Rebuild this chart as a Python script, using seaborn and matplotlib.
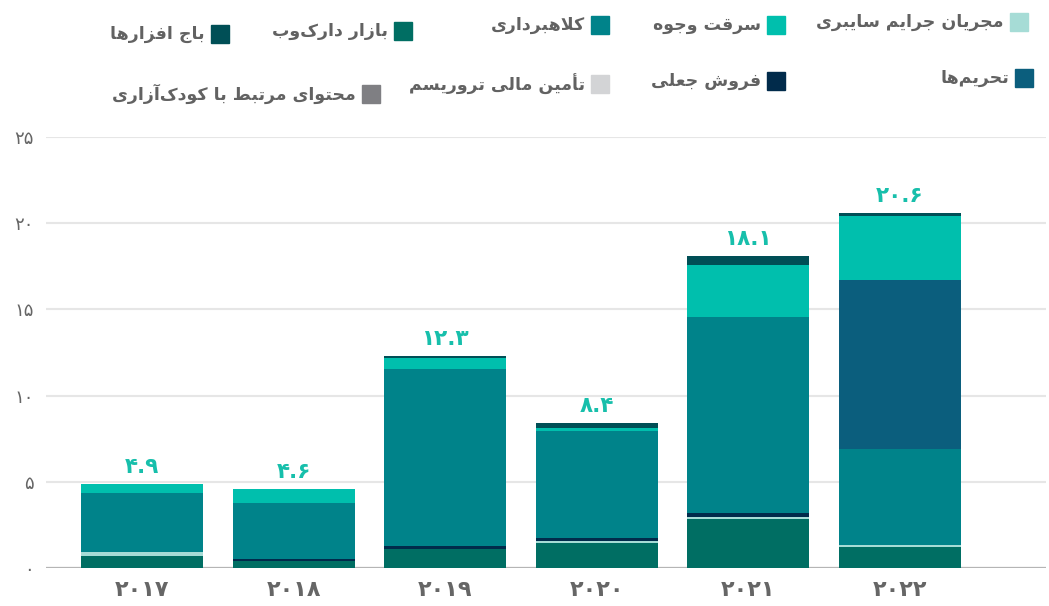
import matplotlib
matplotlib.use("Agg")
import matplotlib.pyplot as plt
import numpy as np
import seaborn as sns
from matplotlib.patches import Rectangle
from matplotlib.ticker import FuncFormatter, MultipleLocator

# ---- data (billions of dollars, by year) ----
years = ['۲۰۱۷', '۲۰۱۸', '۲۰۱۹', '۲۰۲۰', '۲۰۲۱', '۲۰۲۲']

darknet_market = [0.68, 0.43, 1.10, 1.45, 2.82, 1.20]
cybercrime_admins = [0.23, 0.00, 0.00, 0.12, 0.12, 0.12]
fraud_shops = [0.00, 0.12, 0.17, 0.17, 0.23, 0.00]
terrorism_financing = [0.00, 0.00, 0.00, 0.00, 0.00, 0.00]
scams = [3.45, 3.24, 10.27, 6.20, 11.39, 5.57]
sanctions = [0.00, 0.00, 0.00, 0.00, 0.00, 9.83]
stolen_funds = [0.54, 0.81, 0.64, 0.17, 3.02, 3.71]
ransomware = [0.00, 0.00, 0.12, 0.29, 0.52, 0.17]
child_abuse = [0.00, 0.00, 0.00, 0.00, 0.00, 0.00]

series_names = {
    'darknet': 'بازار دارک‌وب',
    'admins': 'مجریان جرایم سایبری',
    'fraud': 'فروش جعلی',
    'terror': 'تأمین مالی تروریسم',
    'scams': 'کلاهبرداری',
    'sanctions': 'تحریم‌ها',
    'stolen': 'سرقت وجوه',
    'ransom': 'باج افزارها',
    'csam': 'محتوای مرتبط با کودک‌آزاری',
}

# stacking order, bottom to top
stack = [
    ('darknet', darknet_market, '#006e63'),
    ('admins', cybercrime_admins, '#a6dcd6'),
    ('fraud', fraud_shops, '#012b4b'),
    ('terror', terrorism_financing, '#d3d4d6'),
    ('scams', scams, '#00838a'),
    ('sanctions', sanctions, '#0b5e7d'),
    ('stolen', stolen_funds, '#00bfad'),
    ('ransom', ransomware, '#004f56'),
    ('csam', child_abuse, '#7f7f83'),
]

# ---- minimal Persian shaping (matplotlib has no complex text layout) ----
FORMS = {
    'ا': (0xFE8D, 0xFE8E, None, None), 'آ': (0xFE81, 0xFE82, None, None),
    'أ': (0xFE83, 0xFE84, None, None), 'د': (0xFEA9, 0xFEAA, None, None),
    'ر': (0xFEAD, 0xFEAE, None, None), 'ز': (0xFEAF, 0xFEB0, None, None),
    'و': (0xFEED, 0xFEEE, None, None),
    'ب': (0xFE8F, 0xFE90, 0xFE91, 0xFE92), 'ت': (0xFE95, 0xFE96, 0xFE97, 0xFE98),
    'ج': (0xFE9D, 0xFE9E, 0xFE9F, 0xFEA0), 'ح': (0xFEA1, 0xFEA2, 0xFEA3, 0xFEA4),
    'س': (0xFEB1, 0xFEB2, 0xFEB3, 0xFEB4), 'ش': (0xFEB5, 0xFEB6, 0xFEB7, 0xFEB8),
    'ط': (0xFEC1, 0xFEC2, 0xFEC3, 0xFEC4), 'ع': (0xFEC9, 0xFECA, 0xFECB, 0xFECC),
    'ف': (0xFED1, 0xFED2, 0xFED3, 0xFED4), 'ق': (0xFED5, 0xFED6, 0xFED7, 0xFED8),
    'ل': (0xFEDD, 0xFEDE, 0xFEDF, 0xFEE0), 'م': (0xFEE1, 0xFEE2, 0xFEE3, 0xFEE4),
    'ن': (0xFEE5, 0xFEE6, 0xFEE7, 0xFEE8), 'ه': (0xFEE9, 0xFEEA, 0xFEEB, 0xFEEC),
    'ی': (0xFBFC, 0xFBFD, 0xFBFE, 0xFBFF), 'ک': (0xFB8E, 0xFB8F, 0xFB90, 0xFB91),
}
LAM_ALEF = {'ا': (0xFEFB, 0xFEFC), 'أ': (0xFEF7, 0xFEF8), 'آ': (0xFEF5, 0xFEF6)}


def _joins_next(ch):
    return ch in FORMS and FORMS[ch][2] is not None


def rtl(text):
    out = []
    i, n = 0, len(text)
    while i < n:
        ch = text[i]
        if ch not in FORMS:
            if ch != '\u200c':
                out.append(ch)
            i += 1
            continue
        link_prev = i > 0 and _joins_next(text[i - 1])
        if ch == 'ل' and i + 1 < n and text[i + 1] in LAM_ALEF:
            iso, fin = LAM_ALEF[text[i + 1]]
            out.append(chr(fin if link_prev else iso))
            i += 2
            continue
        link_next = _joins_next(ch) and i + 1 < n and text[i + 1] in FORMS
        iso, fin, ini, med = FORMS[ch]
        if link_prev and link_next:
            code = med
        elif link_prev:
            code = fin
        elif link_next:
            code = ini
        else:
            code = iso
        out.append(chr(code))
        i += 1
    return ''.join(reversed(out))


FA_DIGITS = str.maketrans('0123456789', '۰۱۲۳۴۵۶۷۸۹')


def fa_num(s):
    return str(s).translate(FA_DIGITS)


# ---- figure ----
sns.set_theme(style="white")
plt.rcParams['font.family'] = ['DejaVu Sans']

W, H = 1049, 606
fig = plt.figure(figsize=(W / 100, H / 100), dpi=100)
ax = fig.add_axes([46 / W, 1 - 568 / H, 1000 / W, (568 - 137) / H])

values = np.array([s[1] for s in stack])
cum = np.cumsum(values, axis=0)

# draw cumulative heights from the top layer down so each layer shows its own slice
for k in range(len(stack) - 1, -1, -1):
    sns.barplot(x=years, y=cum[k], color=stack[k][2], saturation=1,
                width=0.806, ax=ax, zorder=3, linewidth=0)

totals = cum[-1]
for i, t in enumerate(totals):
    ax.annotate(fa_num(f"{t:.1f}"), xy=(i, t), xytext=(0, 5),
                textcoords='offset points', ha='center', va='bottom',
                fontsize=15.5, fontweight='bold', color='#17bfab')

ax.set_xlim(-0.634, 5.965)
ax.set_ylim(0, 25)
ax.yaxis.set_major_locator(MultipleLocator(5))
ax.yaxis.set_major_formatter(FuncFormatter(lambda v, p: fa_num(int(round(v)))))
ax.yaxis.grid(True, color='#e6e6e6', linewidth=1.5, zorder=0)
ax.set_axisbelow(True)
ax.axhline(0, color='#b5b5b5', linewidth=1.6, zorder=2)
for sp in ax.spines.values():
    sp.set_visible(False)
ax.set_xlabel('')
ax.set_ylabel('')
ax.tick_params(axis='y', length=0, pad=9, labelsize=13, labelcolor='#666666')
ax.tick_params(axis='x', length=0, pad=9, labelsize=16, labelcolor='#666666')
for lab in ax.get_xticklabels():
    lab.set_fontweight('bold')

# ---- legend (right-to-left rows) ----
legend_layout = {
    'admins': (1010, 13), 'stolen': (767, 16), 'scams': (591, 16),
    'darknet': (394, 22), 'ransom': (211, 25),
    'sanctions': (1015, 69), 'fraud': (767, 72), 'terror': (591, 75),
    'csam': (362, 85),
}
sq = 18
for key, _, color in stack:
    x0, y0 = legend_layout[key]
    fig.patches.append(Rectangle((x0 / W, 1 - (y0 + sq) / H), sq / W, sq / H,
                                 transform=fig.transFigure, color=color,
                                 figure=fig))
    fig.text((x0 - 6) / W, 1 - (y0 + sq / 2) / H, rtl(series_names[key]),
             ha='right', va='center', fontsize=12.5, fontweight='bold',
             color='#626262')

fig.savefig('out.png', dpi=100)
